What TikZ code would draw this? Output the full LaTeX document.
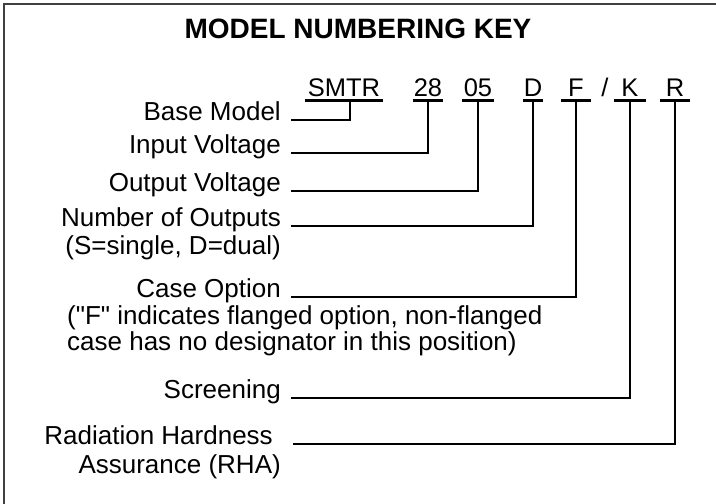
\documentclass[tikz,border=0pt]{standalone}
\usepackage{fontspec}
\setmainfont{Liberation Sans}
\usetikzlibrary{positioning}

\tikzset{
	keytext/.style={font=\fontsize{26}{30}\selectfont, inner sep=0pt, anchor=base east},
	notetext/.style={font=\fontsize{26}{30}\selectfont, inner sep=0pt, anchor=base west},
	codebox/.style={font=\fontsize{25.5}{30}\selectfont, inner xsep=3pt, inner ysep=4pt, text depth=0pt, anchor=base},
	leader/.style={line width=2.6pt},
}

\begin{document}
\begin{tikzpicture}[x=1pt, y=-1pt]
	
	% parameters
	\def\lx{281}          % right edge of the labels
	\def\gap{10}          % space between label and leader
	\def\cy{96}           % baseline of the code letters
	
	\useasboundingbox (0,0) rectangle (716,504);
	
	% frame (top and left only)
	\draw[line width=1.6pt, black!75] (4,504) -- (4,4) -- (716,4);
	
	% title
	\node[font=\fontsize{28}{32}\bfseries\selectfont, anchor=base] (title) at (358,38) {MODEL NUMBERING KEY};
	
	% the code letters
	\node[codebox] (smtr) at (344,\cy) {SMTR};
	\node[codebox, inner xsep=1pt] (vin)  at (428,\cy) {28};
	\node[codebox, inner xsep=2pt] (vout) at (478,\cy) {05};
	\node[codebox, inner xsep=1pt] (nout) at (533,\cy) {D};
	\node[codebox, inner xsep=7pt] (case) at (576,\cy) {F};
	\node[font=\fontsize{25.5}{30}\selectfont, anchor=base] (slash) at (605,\cy) {/};
	\node[codebox, inner xsep=7pt] (scrn) at (630,\cy) {K};
	\node[codebox, inner xsep=6pt] (rha)  at (675,\cy) {R};
	
	% underlines
	\foreach \c in {smtr, vin, vout, nout, case, scrn, rha}
		\draw[leader] (\c.south west) -- (\c.south east);
	
	% labels
	\node[keytext] (lbase)  at (\lx,120) {Base Model};
	\node[keytext] (lvin)   at (\lx,153) {Input Voltage};
	\node[keytext] (lvout)  at (\lx,191) {Output Voltage};
	\node[keytext] (lnout)  at (\lx,226) {Number of Outputs};
	\node[keytext] (lnout2) at (\lx,254) {(S=single, D=dual)};
	\node[keytext] (lcase)  at (\lx,297) {Case Option};
	\node[notetext] (lcase2) at (67,324) {(\textquotedbl F\textquotedbl{} indicates flanged option, non-flanged};
	\node[notetext] (lcase3) at (67,350) {case has no designator in this position)};
	\node[keytext] (lscrn)  at (\lx,398) {Screening};
	\node[keytext] (lrha)   at (273,444) {Radiation Hardness};
	\node[keytext] (lrha2)  at (\lx,473) {Assurance (RHA)};
	
	% leaders from label to letter
	\draw[leader] ([xshift=\gap pt]lbase.base east) -| ([xshift=6pt]smtr.south);
	\draw[leader] ([xshift=\gap pt]lvin.base east)  -| (vin.south);
	\draw[leader] ([xshift=\gap pt]lvout.base east) -| (vout.south);
	\draw[leader] ([xshift=\gap pt]lnout.base east) -| (nout.south);
	\draw[leader] ([xshift=\gap pt]lcase.base east) -| (case.south);
	\draw[leader] ([xshift=\gap pt]lscrn.base east) -| (scrn.south);
	\draw[leader] ([xshift=20pt]lrha.base east)     -| (rha.south);
	
\end{tikzpicture}
\end{document}
